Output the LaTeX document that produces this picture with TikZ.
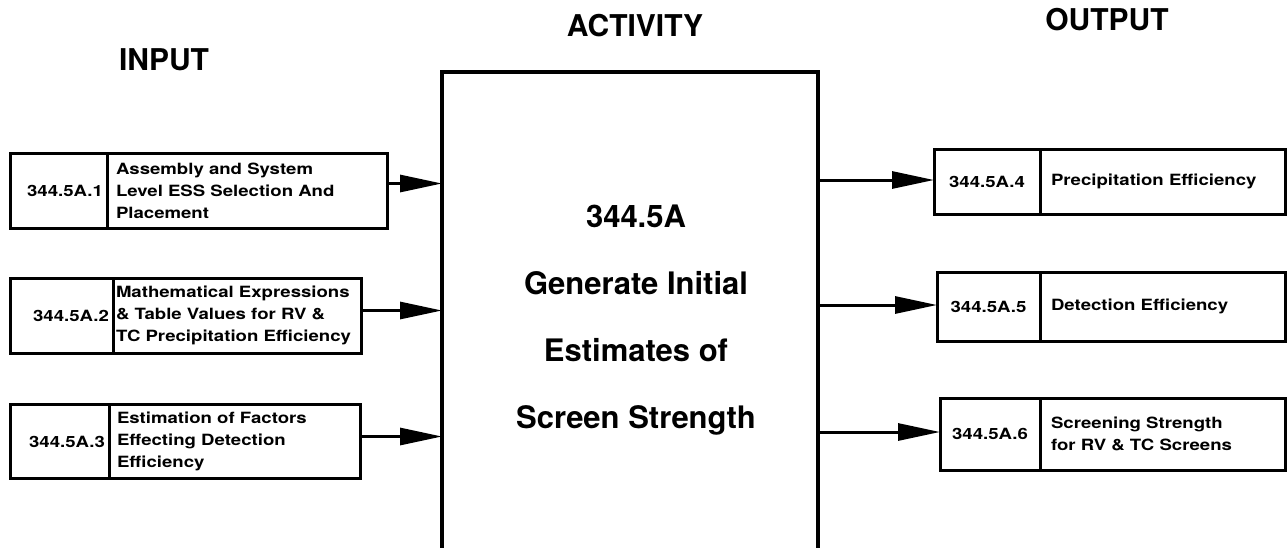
\documentclass[tikz,border=0pt]{standalone}
\usepackage{fontspec}
\setmainfont{TeX Gyre Heros}
\newfontfamily\cellfont[FakeStretch=1.2]{TeX Gyre Heros}
\usetikzlibrary{arrows.meta,positioning}

\begin{document}
\begin{tikzpicture}[x=1pt, y=-1pt,
  cell/.style={draw, line width=3pt, outer sep=0pt, inner ysep=2pt,
    font=\cellfont\bfseries\fontsize{15.5}{22}\selectfont},
  idin/.style={cell, align=right, inner xsep=4pt},
  idout/.style={cell, align=center, inner xsep=4pt},
  txtin/.style={cell, align=left},
  txtout/.style={cell, align=left, inner xsep=11pt, text width=223pt},
  head/.style={font=\bfseries\fontsize{30}{36}\selectfont},
  actbox/.style={draw, line width=3.4pt, outer sep=0pt},
  acttxt/.style={align=center, font=\bfseries\fontsize{31}{67}\selectfont},
  flow/.style={-{Triangle[length=42pt,width=17pt]}, line width=3pt}]
  \path[use as bounding box, clip] (0,0) rectangle (1287,547);

  % column titles
  \node[head] (hin) at (164,60) {INPUT};
  \node[head] (hact) at (635,26) {ACTIVITY};
  \node[head] (hout) at (1107,20) {OUTPUT};

  % activity
  \node[actbox, minimum width=376pt, minimum height=490pt, anchor=north west] (act) at (442,72) {};
  \node[acttxt] (actlbl) at (636,320) {344.5A\\Generate Initial\\Estimates of\\Screen Strength};

  % inputs
  \node[idin, text width=89pt, minimum height=75pt, anchor=west] (i1) at (10,190.5) {344.5A.1};
  \node[txtin, inner xsep=9pt, text width=262pt, minimum height=75pt, right=0pt of i1] (t1)
    {Assembly and System\\Level ESS Selection And\\Placement};
  \node[idin, text width=95pt, minimum height=75pt, anchor=west] (i2) at (10,315.5) {344.5A.2};
  \node[txtin, inner xsep=3pt, text width=242pt, minimum height=75pt, right=0pt of i2] (t2)
    {Mathematical Expressions\\\& Table Values for RV \&\\TC Precipitation Efficiency};
  \node[idin, text width=91pt, minimum height=74pt, anchor=west] (i3) at (10,441.5) {344.5A.3};
  \node[txtin, inner xsep=8pt, text width=235pt, minimum height=74pt, right=0pt of i3] (t3)
    {Estimation of Factors\\Effecting Detection\\Efficiency};

  % outputs
  \node[idout, text width=98pt, minimum height=65pt, anchor=west] (o4) at (934,181.5) {344.5A.4};
  \node[txtout, minimum height=65pt, right=0pt of o4] (u4) {Precipitation Efficiency};
  \node[idout, text width=95pt, minimum height=69pt, anchor=west] (o5) at (937,306.5) {344.5A.5};
  \node[txtout, minimum height=69pt, right=0pt of o5] (u5) {Detection Efficiency};
  \node[idout, text width=92pt, minimum height=72pt, anchor=west] (o6) at (940,434) {344.5A.6};
  \node[txtout, minimum height=72pt, right=0pt of o6] (u6) {Screening Strength\\for RV \& TC Screens};

  % connectors
  \coordinate (a1) at ([yshift=7pt]t1.east);
  \coordinate (a2) at ([yshift=5pt]t2.east);
  \coordinate (a3) at ([yshift=5pt]t3.east);
  \draw[flow] (a1) -- (a1 -| act.west);
  \draw[flow] (a2) -- (a2 -| act.west);
  \draw[flow] (a3) -- (a3 -| act.west);
  \coordinate (b4) at ([yshift=1.5pt]o4.west);
  \coordinate (b5) at ([yshift=1.5pt]o5.west);
  \coordinate (b6) at ([yshift=2pt]o6.west);
  \draw[flow] (b4 -| act.east) -- (b4);
  \draw[flow] (b5 -| act.east) -- (b5);
  \draw[flow] (b6 -| act.east) -- (b6);
\end{tikzpicture}
\end{document}
